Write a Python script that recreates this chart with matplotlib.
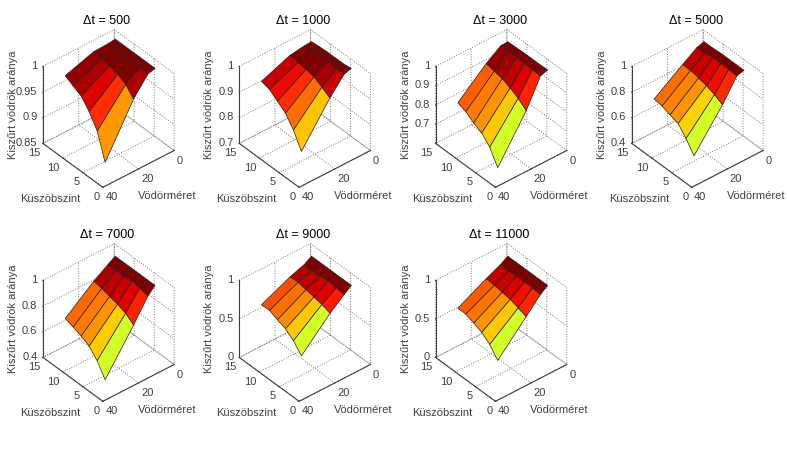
import numpy as np
import matplotlib
matplotlib.use("Agg")
import matplotlib.pyplot as plt

plt.rcParams['font.family'] = ['Liberation Sans', 'DejaVu Sans']
plt.rcParams['grid.linestyle'] = ':'

W, H = 787, 451

bucket_sizes = [32, 16, 8, 4]
thresholds = [3, 5, 7, 9, 11, 13]
titles = ['Δt = 500', 'Δt = 1000', 'Δt = 3000', 'Δt = 5000', 'Δt = 7000', 'Δt = 9000', 'Δt = 11000']

z500 = [[.867, .917, .943, .962, .970, .979],
        [.962, .979, .987, .992, .995, .997],
        [.996, .997, .998, .998, .998, .998],
        [1.0, 1.0, 1.0, 1.0, 1.0, 1.0]]
z1000 = [[.777, .837, .880, .904, .927, .936],
         [.928, .947, .964, .970, .975, .980],
         [.992, .990, .993, .993, .990, .988],
         [1.0, .995, .995, .995, .993, .990]]
z3000 = [[.618, .694, .737, .759, .787, .803],
         [.838, .872, .895, .913, .921, .931],
         [.980, .982, .984, .984, .984, .984],
         [.992, .990, .990, .990, .988, .986]]
z5000 = [[.520, .608, .680, .701, .725, .734],
         [.803, .836, .861, .875, .887, .888],
         [.970, .975, .975, .975, .965, .963],
         [.985, .985, .985, .985, .980, .980]]
z7000 = [[.442, .544, .613, .646, .670, .691],
         [.754, .800, .826, .840, .856, .867],
         [.922, .940, .949, .940, .940, .940],
         [.976, .976, .976, .976, .976, .976]]
z9000 = [[.380, .500, .580, .620, .667, .664],
         [.740, .780, .800, .820, .840, .835],
         [.890, .900, .915, .900, .890, .900],
         [.960, .960, .960, .960, .960, .960]]
z11000 = [[.320, .453, .533, .578, .618, .620],
          [.700, .735, .770, .787, .800, .813],
          [.890, .900, .900, .900, .890, .900],
          [.960, .960, .960, .960, .960, .960]]
surfaces = [z500, z1000, z3000, z5000, z7000, z9000, z11000]

z_limits = [(.85, 1), (.7, 1), (.6, 1), (.4, 1), (.4, 1), (0, 1), (0, 1)]
z_ticks = [[.85, .9, .95, 1], [.7, .8, .9, 1], [.7, .8, .9, 1], [.4, .6, .8, 1],
           [.4, .6, .8, 1], [0, .5, 1], [0, .5, 1]]
z_ticklabels = [['0.85', '0.9', '0.95', '1'], ['0.7', '0.8', '0.9', '1'], ['0.7', '0.8', '0.9', '1'],
                ['0.4', '0.6', '0.8', '1'], ['0.4', '0.6', '0.8', '1'], ['0', '0.5', '1'], ['0', '0.5', '1']]
color_low = [.53, .32, .125, -.134, -.267, -.409, -.545]
color_high = [.98, .97, .94, .947, .905, .895, .885]

col_step = 196.3
size = 190
grey = '#404040'

fig = plt.figure(figsize=(W / 100, H / 100), dpi=100)
X, Y = np.meshgrid(bucket_sizes, thresholds, indexing='ij')

for k in range(7):
    col, row = k % 4, k // 4
    cx = 106 + col_step * col
    cy = 111 if row == 0 else 325
    ax = fig.add_axes([(cx - size / 2) / W, 1 - (cy + size / 2) / H, size / W, size / H],
                      projection='3d', proj_type='ortho')
    ax.patch.set_alpha(0)
    ax.view_init(elev=38, azim=-130)
    ax.set_box_aspect((1, 1, 1.05), zoom=0.838)
    ax.set_xlim(40, 0)
    ax.set_ylim(0, 15)
    ax.set_zlim(*z_limits[k])
    Z = np.array(surfaces[k])
    lo, hi = color_low[k], color_high[k]
    colors = plt.cm.jet(np.clip((Z[:-1, :-1] - lo) / (hi - lo), 0, 1))
    ax.plot_surface(X, Y, Z, rstride=1, cstride=1, facecolors=colors, shade=False,
                    edgecolor='#222222', linewidth=0.5, antialiased=True)
    ax.set_xticks([0, 20, 40])
    ax.set_yticks([0, 5, 10, 15])
    ax.set_zticks(z_ticks[k])
    ax.set_xticklabels(['0', '20', '40'], ha='left', va='top')
    ax.set_yticklabels(['0', '5', '10', '15'], ha='right', va='top')
    ax.set_zticklabels(z_ticklabels[k], ha='right', va='center')
    for axis in (ax.xaxis, ax.yaxis, ax.zaxis):
        axis.set_pane_color((1, 1, 1, 0))
        axis.pane.set_edgecolor('#777777')
        axis.pane.set_linestyle(':')
        axis.pane.set_linewidth(0.7)
        axis.line.set_color(grey)
        axis.line.set_linewidth(0.8)
        axis._axinfo['grid'].update(color='#777777', linewidth=0.7, linestyle=':')
        axis._axinfo['tick'].update(inward_factor=0.0, outward_factor=0.03)
    ax.tick_params(axis='x', labelsize=8, colors=grey, pad=-5)
    ax.tick_params(axis='y', labelsize=8, colors=grey, pad=-5)
    ax.tick_params(axis='z', labelsize=8, colors=grey, pad=-5)
    ty = 21 if row == 0 else 235
    fig.text((cx + 1) / W, 1 - ty / H, titles[k], fontsize=9, ha='center', va='center', color='black')
    fig.text((cx + 61) / W, 1 - (cy + 85) / H, 'Vödörméret', fontsize=8, ha='center', va='center', color=grey)
    fig.text((cx - 56) / W, 1 - (cy + 88) / H, 'Küszöbszint', fontsize=8, ha='center', va='center', color=grey)
    fig.text((cx - 93) / W, 1 - (cy - 6) / H, 'Kiszűrt vödrök aránya', fontsize=8, rotation=90,
             ha='center', va='center', color=grey)

fig.savefig('out.png', dpi=100)
